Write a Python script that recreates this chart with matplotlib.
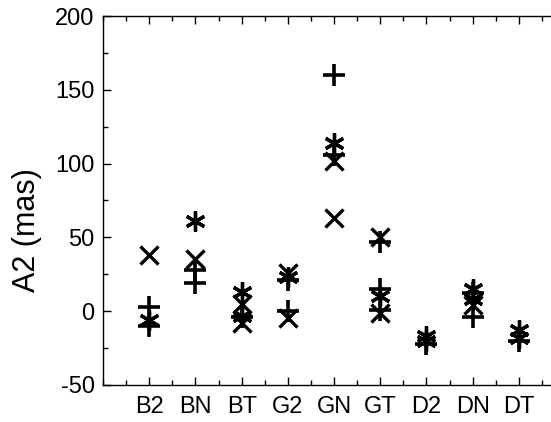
import numpy as np
import matplotlib
matplotlib.use("Agg")
import matplotlib.pyplot as plt
from matplotlib.ticker import MultipleLocator

plt.rcParams['font.family'] = ['Liberation Sans', 'DejaVu Sans']
plt.rcParams['axes.unicode_minus'] = False

categories = ["B2", "BN", "BT", "G2", "GN", "GT", "D2", "DN", "DT"]
nan = np.nan

# A2 values (mas) per category, grouped by symbol
plus_1 = [3, 28, -4, 21, 160, 47, -22, 12, -20]
plus_2 = [-10, 19, nan, 0, 106, 15, nan, -4, nan]
plus_3 = [nan, nan, nan, nan, nan, 1, nan, nan, nan]
cross_1 = [38, 35, 5, -5, 63, 50, nan, 4, nan]
cross_2 = [nan, nan, -8, 26, 102, -1, nan, nan, nan]
star_1 = [-6, 61, 13, 23, 114, 10, -17, 15, -13]
star_2 = [nan, nan, -3, nan, nan, nan, -20, 8, -18]

x = np.arange(1, len(categories) + 1)

fig = plt.figure(figsize=(5.51, 4.22), dpi=100)
ax = fig.add_axes([0.187, 0.088, 0.8385, 0.874])

plus_kw = dict(marker='+', markersize=15.5, markeredgewidth=2.6, color='black', linestyle='none')
cross_kw = dict(marker='x', markersize=13.5, markeredgewidth=2.4, color='black', linestyle='none')
star_kw = dict(marker=(6, 2, 0), markersize=14.5, markeredgewidth=2.4, color='black', linestyle='none')

for series in (plus_1, plus_2, plus_3):
    ax.plot(x, series, **plus_kw)
for series in (cross_1, cross_2):
    ax.plot(x, series, **cross_kw)
for series in (star_1, star_2):
    ax.plot(x, series, **star_kw)

ax.set_xlim(0, 10)
ax.set_ylim(-50, 200)
ax.set_xticks(x)
ax.set_xticklabels(categories)
ax.xaxis.set_minor_locator(MultipleLocator(0.5))
ax.yaxis.set_major_locator(MultipleLocator(50))
ax.yaxis.set_minor_locator(MultipleLocator(25))

ax.tick_params(which='both', direction='in', top=True, right=False,
               width=1.0, labelsize=17)
ax.tick_params(axis='x', pad=8)
ax.tick_params(axis='y', pad=6)
ax.tick_params(which='major', length=5.5)
ax.tick_params(which='minor', length=3.5)
for sp in ax.spines.values():
    sp.set_linewidth(1.0)

ax.set_ylabel("A2 (mas)", fontsize=22)
ax.yaxis.set_label_coords(-0.133, 0.42)

fig.savefig("out.png", dpi=100)
